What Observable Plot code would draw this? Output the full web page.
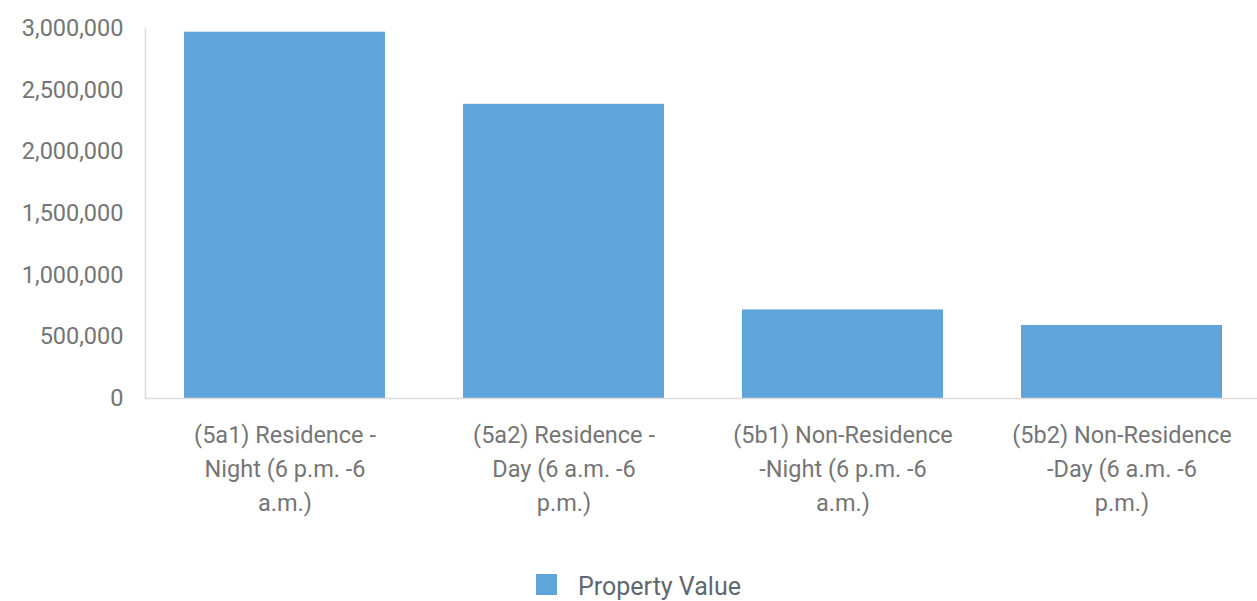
<!DOCTYPE html>
<html>
<head>
<meta charset="utf-8">
<script src="https://cdn.jsdelivr.net/npm/d3@7"></script>
<script src="https://cdn.jsdelivr.net/npm/@observablehq/plot@0.6"></script>
<style>
  html, body { margin: 0; padding: 0; background: #fff; }
  #wrap { position: relative; width: 1257px; height: 601px; font-family: Roboto, sans-serif; overflow: hidden; }
  #legend { position: absolute; left: 536px; top: 573px; height: 22px; display: flex; align-items: center; font-size: 25px; line-height: 22px; color: #5f6770; }
  #legend .sw { width: 21px; height: 21px; background: #5fa4da; margin-right: 21px; }
  #legend span { position: relative; top: 3px; }
</style>
</head>
<body>
<div id="wrap">
  <div id="chart"></div>
  <div id="legend"><div class="sw"></div><span id="legendLabel"></span></div>
</div>
<script>
const categories = [
  "(5a1) Residence - Night (6 p.m. -6 a.m.)",
  "(5a2) Residence - Day (6 a.m. -6 p.m.)",
  "(5b1) Non-Residence -Night (6 p.m. -6 a.m.)",
  "(5b2) Non-Residence -Day (6 a.m. -6 p.m.)"
];
const tickLabels = [
  "(5a1) Residence -\nNight (6 p.m. -6\na.m.)",
  "(5a2) Residence -\nDay (6 a.m. -6\np.m.)",
  "(5b1) Non-Residence\n-Night (6 p.m. -6\na.m.)",
  "(5b2) Non-Residence\n-Day (6 a.m. -6\np.m.)"
];
const propertyValue = [2970000, 2385000, 718000, 592000];
const yTicks = [0, 500000, 1000000, 1500000, 2000000, 2500000, 3000000];
const seriesName = "Property Value";

const data = categories.map((c, i) => ({category: c, value: propertyValue[i]}));
const labelOf = new Map(categories.map((c, i) => [c, tickLabels[i]]));

const chart = Plot.plot({
  width: 1257,
  height: 540,
  marginTop: 28,
  marginBottom: 142,
  marginLeft: 145,
  marginRight: -4,
  style: {fontFamily: "Roboto, sans-serif", background: "#fff", overflow: "visible"},
  x: {domain: categories, paddingInner: 0.28, paddingOuter: 0.14, label: null, axis: null},
  y: {domain: [0, 3000000], label: null, axis: null},
  marks: [
    Plot.barY(data, {x: "category", y: "value", fill: "#5fa4da"}),
    Plot.ruleY([0], {stroke: "#dcdcdc", strokeWidth: 1.5}),
    Plot.frame({anchor: "left", stroke: "#dcdcdc", strokeWidth: 1.5}),
    Plot.axisY({
      ticks: yTicks,
      tickSize: 0,
      tickPadding: 22,
      tickFormat: d3.format(","),
      fontSize: 23.5,
      fill: "#757575",
      label: null
    }),
    Plot.axisX({
      tickSize: 0,
      tickPadding: 21,
      tickFormat: d => labelOf.get(d),
      fontSize: 23.5,
      lineHeight: 1.43,
      fill: "#757575",
      label: null
    })
  ]
});
document.getElementById("chart").appendChild(chart);
document.getElementById("legendLabel").textContent = seriesName;
</script>
</body>
</html>
